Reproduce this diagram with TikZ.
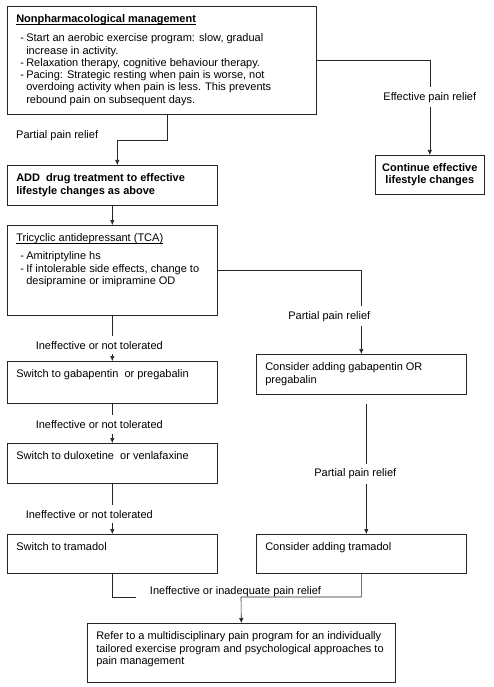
\documentclass[tikz,border=0pt]{standalone}
\usepackage{fontspec}
\setmainfont{Liberation Sans}
\usepackage{tikz}
\usetikzlibrary{arrows.meta,calc,positioning}
\newcommand{\BoxText}[3]{\parbox[t][#2pt][t]{#1pt}{\begin{tabular}[t]{@{}l@{}}#3\end{tabular}}}
\newcommand{\Dash}{\makebox[10pt][l]{\hspace{4pt}-}}
\newcommand{\Ind}{\hspace*{10pt}}
\newcommand{\ULine}[1]{\setbox0\hbox{#1}\rlap{\rule[-1.4pt]{\wd0}{0.5pt}}\box0}
\tikzset{
  box/.style={draw=black!85, line width=0.6pt, anchor=north west, inner xsep=9pt, inner ysep=8pt},
  flow/.style={-{Latex[length=5pt,width=4.5pt]}, draw=black!85, line width=0.6pt},
  link/.style={draw=black!85, line width=0.6pt},
  lbl/.style={fill=white, inner xsep=1pt, inner ysep=5pt},
  plain/.style={inner sep=0pt}
}

\begin{document}
\begin{tikzpicture}[x=1pt, y=-1pt, every node/.style={font=\fontsize{11}{12.3}\selectfont}]
  \useasboundingbox (0,0) rectangle (494,687);
  % lifestyle column
  \node[box] (b1) at (7,6) {\BoxText{291}{92}{%
    \ULine{\textbf{Nonpharmacological management}}\\[6.5pt]
    \Dash Start an aerobic exercise program: slow, gradual\\
    \Ind increase in activity.\\
    \Dash Relaxation therapy, cognitive behaviour therapy.\\
    \Dash Pacing: Strategic resting when pain is worse, not\\
    \Ind overdoing activity when pain is less. This prevents\\
    \Ind rebound pain on subsequent days.}};
  \node[box, inner xsep=3pt, align=center, minimum width=109pt, minimum height=37pt,
        font=\fontsize{11}{12.6}\selectfont\bfseries] (cont) at (375,155)
    {Continue effective\\lifestyle changes};
  \node[box] (add) at (7,165) {\BoxText{192}{24}{%
    \textbf{ADD\ \ drug treatment to effective}\\
    \textbf{lifestyle changes as above}}};
  % drug steps, left column
  \node[box] (tca) at (7,225) {\BoxText{192}{74}{%
    \ULine{Tricyclic antidepressant (TCA)}\\[5.5pt]
    \Dash Amitriptyline hs\\
    \Dash If intolerable side effects, change to\\
    \Ind desipramine or imipramine OD}};
  \node[box] (sw1) at (7,361) {\BoxText{192}{26}{Switch to gabapentin\ \ or pregabalin}};
  \node[box] (sw2) at (7,443) {\BoxText{192}{24}{Switch to duloxetine\ \ or venlafaxine}};
  \node[box] (sw3) at (7,534) {\BoxText{192}{23}{Switch to tramadol}};
  % add-on steps, right column
  \node[box] (cg) at (256,354) {\BoxText{192}{24}{%
    Consider adding gabapentin OR\\
    pregabalin}};
  \node[box] (ct) at (256,534) {\BoxText{192}{23}{Consider adding tramadol}};
  % last resort
  \node[box] (ref) at (87,623) {\BoxText{290}{43}{%
    Refer to a multidisciplinary pain program for an individually\\
    tailored exercise program and psychological approaches to\\
    pain management}};

  % connectors
  \draw[flow] (b1.east) -| node[lbl, pos=0.695] {Effective pain relief} (cont.north);
  \draw[flow] ([xshift=5pt]b1.south) -- ++(0,26) -| ([xshift=5pt]add.north);
  \node[plain, anchor=west] (pp1) at (16,136) {Partial pain relief};
  \draw[flow] (add) -- (tca);
  \draw[flow] (tca.east) -| node[lbl, pos=0.774, xshift=-32pt] {Partial pain relief} (cg.north);
  \draw[flow] (tca) -- node[lbl, pos=0.65, xshift=-13pt] {Ineffective or not tolerated} (sw1);
  \draw[flow] (sw1) -- node[lbl, pos=0.53, xshift=-13pt] {Ineffective or not tolerated} (sw2);
  \draw[flow] (sw2) -- node[lbl, pos=0.61, xshift=-23pt] {Ineffective or not tolerated} (sw3);
  \draw[flow] ([xshift=5pt,yshift=-9pt]cg.south) -- node[lbl, pos=0.54, xshift=-11pt] {Partial pain relief} ([xshift=5pt]ct.north);
  % merge into referral
  \coordinate (mL) at (136,597);
  \coordinate (m) at (241,597);
  \draw[link] (sw3.south) |- (mL);
  \draw[flow] (ct.south) |- (m) -- (ref.north);
  \node[plain] (lblB) at (235.5,592) {Ineffective or inadequate pain relief};
\end{tikzpicture}
\end{document}
